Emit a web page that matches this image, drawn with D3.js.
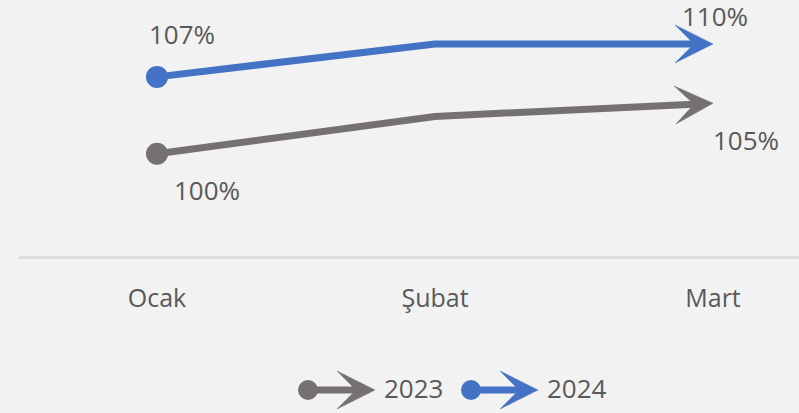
<!DOCTYPE html>
<html>
<head>
<meta charset="utf-8">
<script src="https://cdn.jsdelivr.net/npm/d3@7"></script>
<style>
  body { margin: 0; background: #f2f2f2; }
</style>
</head>
<body>
<div id="viz"></div>
<script>

const months = ["Ocak", "Şubat", "Mart"]
const values2023 = [100, 103.4, 104.6]
const values2024 = [107, 110, 110]
const seriesNames = ["2023", "2024"]

const width = 799
const height = 413

const colors = { "2023": "#767171", "2024": "#4472c4" }
const textColor = "#595959"
const font = "Open Sans"

const svg = d3.select("#viz").append("svg")
  .attr("width", width)
  .attr("height", height)
  .style("background-color", "#f2f2f2")
  .style("display", "block")

const x = d3.scaleBand()
  .domain(months)
  .range([18, 852])

const y = d3.scaleLinear()
  .domain([90.6, 114])
  .range([257, 0])

const cx = m => x(m) + x.bandwidth() / 2

// category axis
const axis = svg.append("g")
  .attr("transform", "translate(0,257)")
  .call(d3.axisBottom(x).tickSize(0).tickSizeOuter(0).tickPadding(32))

axis.select(".domain")
  .attr("stroke", "#d9d9d9")
  .attr("stroke-width", 2.5)

axis.selectAll("text")
  .attr("font-family", font)
  .attr("font-size", 25)
  .attr("fill", textColor)

// stealth arrow head, tip at (0,0) pointing right
function arrowHead(g, tx, ty, angle, color) {
  g.append("path")
    .attr("d", "M0,0L-38,-19L-19,0L-38,19Z")
    .attr("transform", `translate(${tx},${ty}) rotate(${angle})`)
    .attr("fill", color)
    .attr("stroke", color)
    .attr("stroke-width", 0.5)
}

function drawSeries(name, values) {
  const color = colors[name]
  const pts = values.map((v, i) => [cx(months[i]), y(v)])
  const n = pts.length
  const a = Math.atan2(pts[n - 1][1] - pts[n - 2][1], pts[n - 1][0] - pts[n - 2][0])
  // pull the line end back into the arrow head
  const end = [pts[n - 1][0] - 14 * Math.cos(a), pts[n - 1][1] - 14 * Math.sin(a)]
  const linePts = pts.slice(0, n - 1).concat([end])

  const g = svg.append("g")

  g.append("path")
    .attr("d", d3.line()(linePts))
    .attr("fill", "none")
    .attr("stroke", color)
    .attr("stroke-width", 7)
    .attr("stroke-linejoin", "round")

  g.append("circle")
    .attr("cx", pts[0][0])
    .attr("cy", pts[0][1])
    .attr("r", 11)
    .attr("fill", color)

  arrowHead(g, pts[n - 1][0], pts[n - 1][1], a * 180 / Math.PI, color)
}

drawSeries("2023", values2023)
drawSeries("2024", values2024)

// data labels (first and last point)
const labelOffsets = {
  "2023": [[50, 46], [33, 47]],
  "2024": [[25, -33], [2, -18]]
}
const seriesValues = { "2023": values2023, "2024": values2024 }

seriesNames.forEach(name => {
  const vals = seriesValues[name]
  const idx = [0, vals.length - 1]
  idx.forEach((i, k) => {
    svg.append("text")
      .attr("x", cx(months[i]) + labelOffsets[name][k][0])
      .attr("y", y(vals[i]) + labelOffsets[name][k][1])
      .attr("text-anchor", "middle")
      .attr("font-family", font)
      .attr("font-size", 26)
      .attr("fill", textColor)
      .text(Math.round(vals[i]) + "%")
  })
})

// legend
const legendX = [308, 471]
seriesNames.forEach((name, i) => {
  const lx = legendX[i]
  const ly = 390
  const color = colors[name]
  const g = svg.append("g")
  g.append("line")
    .attr("x1", lx).attr("y1", ly)
    .attr("x2", lx + 53).attr("y2", ly)
    .attr("stroke", color)
    .attr("stroke-width", 7)
  g.append("circle")
    .attr("cx", lx).attr("cy", ly).attr("r", 10)
    .attr("fill", color)
  arrowHead(g, lx + 67, ly, 0, color)
  g.append("text")
    .attr("x", lx + 76)
    .attr("y", 398)
    .attr("font-family", font)
    .attr("font-size", 26)
    .attr("fill", textColor)
    .text(name)
})

</script>
</body>
</html>
